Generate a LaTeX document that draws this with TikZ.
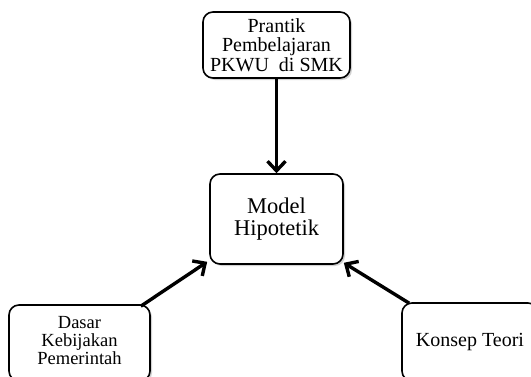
\documentclass[tikz,border=0pt]{standalone}
\usepackage{fontspec}
\setmainfont{Liberation Serif}
\usetikzlibrary{arrows.meta,shadows}
\begin{document}
\begin{tikzpicture}[x=1pt,y=1pt,
  boxstyle/.style={draw,line width=1.6pt,rounded corners=10pt,fill=white,
    align=center,inner sep=0pt,
    drop shadow={opacity=0.35,shadow xshift=2pt,shadow yshift=-2pt}},
  arr/.style={line width=3.4pt,-{Straight Barb[length=9.5pt,width=18pt]}}]
\clip (0,0) rectangle (531,376);
\fill[white] (0,0) rectangle (531,376);
\node[boxstyle,minimum width=147pt,minimum height=66pt,
  font=\fontsize{20}{19.5}\selectfont] (top) at (276.5,331)
  {Prantik\\Pembelajaran\\PKWU\ \ di SMK};
\node[boxstyle,minimum width=133pt,minimum height=90pt,
  font=\fontsize{22.5}{22}\selectfont] (M) at (276.5,157)
  {Model\\Hipotetik};
\node[boxstyle,minimum width=141pt,minimum height=76pt,
  font=\fontsize{18.5}{18}\selectfont] (BL) at (79.5,33)
  {\raisebox{4pt}{\begin{tabular}{@{}c@{}}Dasar\\Kebijakan\\Pemerintah\end{tabular}}};
\node[boxstyle,minimum width=136pt,minimum height=78pt,
  font=\fontsize{20}{19}\selectfont] (BR) at (470,34)
  {Konsep Teori};
\draw[arr] (top.south) -- (M.north);
\draw[arr] ([xshift=-10pt,yshift=-2pt]BL.north east) -- ([xshift=-2pt,yshift=3pt]M.south west);
\draw[arr] ([xshift=8pt,yshift=-1pt]BR.north west) -- ([xshift=0pt,yshift=2pt]M.south east);
\end{tikzpicture}
\end{document}
